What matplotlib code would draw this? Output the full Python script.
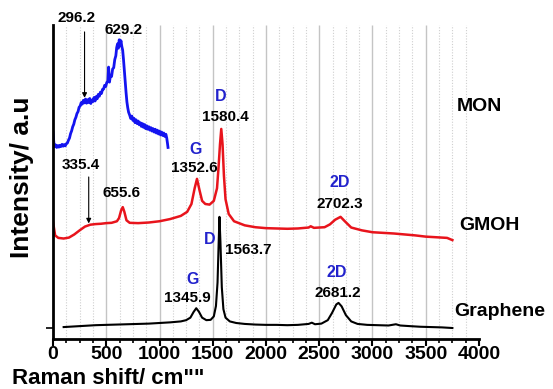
import matplotlib
matplotlib.use("Agg")
import matplotlib.pyplot as plt
import numpy as np

plt.rcParams['font.family'] = ['Liberation Sans', 'DejaVu Sans']
plt.rcParams['font.weight'] = 'bold'

# Graphene (preto)
graf_x = [100, 200, 300, 400, 500, 600, 700, 800, 900, 1000, 1100, 1200, 1250, 1290, 1320,
          1345, 1370, 1400, 1440, 1480, 1510, 1530, 1545, 1555, 1563, 1572, 1585, 1600, 1620,
          1660, 1720, 1800, 1900, 2000, 2100, 2200, 2300, 2400, 2430, 2460, 2520, 2580, 2620,
          2660, 2681, 2710, 2750, 2800, 2860, 2950, 3050, 3150, 3220, 3260, 3350, 3450, 3550,
          3650, 3750]
graf_y = [3.8, 4.0, 4.2, 4.4, 4.5, 4.6, 4.7, 4.8, 4.9, 5.1, 5.3, 5.6, 6.0, 6.8, 8.6,
          9.8, 8.7, 6.8, 6.0, 6.1, 7.2, 10.5, 18.0, 30.0, 38.9, 31.0, 16.5, 9.5, 6.8,
          5.6, 5.1, 4.8, 4.6, 4.5, 4.5, 4.4, 4.5, 4.8, 5.2, 4.7, 4.9, 6.0, 8.3,
          11.0, 11.5, 10.4, 7.6, 5.6, 4.8, 4.5, 4.4, 4.3, 4.7, 4.3, 4.1, 3.9, 3.8,
          3.7, 3.5]

# GMOH (vermelho)
gmoh_x = [0, 20, 50, 100, 150, 200, 250, 300, 350, 400, 450, 500, 550, 600, 620, 640, 655,
          670, 690, 720, 800, 900, 1000, 1100, 1200, 1260, 1300, 1330, 1352, 1375, 1400,
          1430, 1470, 1510, 1540, 1555, 1568, 1580, 1592, 1605, 1620, 1650, 1700, 1800,
          1900, 2000, 2100, 2200, 2300, 2400, 2420, 2450, 2550, 2600, 2650, 2700, 2740,
          2800, 2900, 3000, 3100, 3200, 3300, 3400, 3500, 3600, 3700, 3750]
gmoh_y = [37.3, 33.0, 32.2, 32.0, 32.3, 33.3, 34.6, 35.8, 36.4, 36.6, 36.7, 36.9, 37.0,
          37.5, 38.5, 41.0, 42.0, 40.5, 37.8, 37.0, 36.9, 37.1, 37.5, 38.2, 39.2, 40.5,
          43.0, 48.0, 51.0, 47.5, 44.0, 43.0, 42.8, 44.0, 48.0, 55.0, 62.0, 66.9, 62.0,
          52.0, 44.5, 39.8, 37.5, 36.2, 35.6, 35.3, 35.2, 35.1, 35.2, 35.5, 35.9, 35.4,
          35.6, 36.5, 38.0, 38.9, 37.5, 35.5, 34.6, 34.0, 33.8, 33.6, 33.3, 33.0, 32.6,
          32.4, 32.2, 31.5]

# MON (azul, sinal ruidoso)
mon_x = [0, 8, 15, 25, 35, 45, 55, 65, 75, 85, 95, 105, 115, 125, 135, 145, 155, 165, 175,
         185, 195, 205, 215, 225, 235, 245, 255, 265, 275, 285, 295, 305, 315, 325, 335, 345,
         355, 365, 375, 385, 395, 405, 415, 425, 435, 445, 455, 465, 475, 485, 495, 505, 515,
         522, 530, 540, 550, 560, 570, 580, 590, 598, 606, 614, 622, 630, 638, 646, 654, 662,
         670, 678, 686, 694, 702, 710, 720, 730, 740, 750, 760, 770, 780, 790, 800, 810, 820,
         830, 840, 850, 860, 870, 880, 890, 900, 910, 920, 930, 940, 950, 960, 970, 980, 990,
         1000, 1010, 1020, 1030, 1040, 1050, 1060, 1068, 1075, 1080]
mon_y = [65.9, 62.5, 61.2, 61.8, 61.0, 61.6, 61.1, 61.7, 61.3, 62.0, 61.4, 61.9, 61.5, 62.2,
         62.4, 63.3, 64.0, 65.4, 66.3, 67.6, 68.4, 69.8, 70.6, 71.8, 72.4, 73.8, 74.2, 75.3,
         74.8, 76.0, 75.2, 76.4, 75.1, 76.2, 75.3, 76.6, 75.0, 76.1, 75.6, 76.9, 75.8, 77.2,
         76.5, 77.9, 77.3, 78.6, 78.2, 79.5, 79.6, 80.8, 80.4, 81.7, 82.0, 86.6, 81.8, 84.0,
         83.6, 86.0, 86.4, 89.0, 90.2, 92.8, 94.0, 92.6, 95.3, 93.4, 95.0, 93.2, 92.0, 89.0,
         85.5, 82.0, 78.5, 75.5, 73.6, 72.2, 71.3, 70.2, 71.0, 69.6, 70.3, 68.9, 69.8, 68.6,
         69.4, 68.2, 68.9, 67.7, 68.6, 67.4, 68.3, 67.0, 67.9, 66.8, 67.6, 66.5, 67.3, 66.2,
         67.0, 65.9, 66.8, 65.6, 66.5, 65.3, 66.2, 65.0, 65.9, 64.8, 65.6, 64.5, 65.2, 64.0,
         62.3, 61.0]

# rotulos: (texto, x, y, cor, tamanho)
rotulos = [
    ("629.2", 666, 98.4, "black", 11),
    ("655.6", 647, 46.5, "black", 11),
    ("G", 1341, 60.2, "#2222cc", 11.5),
    ("1352.6", 1323, 54.5, "black", 11),
    ("D", 1576, 77.1, "#2222cc", 11.5),
    ("1580.4", 1623, 70.7, "black", 11),
    ("2D", 2692, 49.7, "#2222cc", 11.5),
    ("2702.3", 2692, 43.0, "black", 11),
    ("G", 1313, 18.8, "#2222cc", 11.5),
    ("1345.9", 1266, 13.1, "black", 11),
    ("D", 1473, 31.8, "#2222cc", 11.5),
    ("1563.7", 1829, 28.3, "black", 11),
    ("2D", 2664, 21.3, "#2222cc", 11.5),
    ("2681.2", 2673, 14.6, "black", 11),
    ("MON", 4006, 73.9, "black", 14),
    ("GMOH", 4100, 36.3, "black", 14),
    ("Graphene", 4193, 8.6, "black", 14),
]

# setas: (texto, x do pico, y texto, y inicio, y fim)
setas = [
    ("296.2", 296.2, 102.2, 97.8, 76.8),
    ("335.4", 335.4, 55.4, 51.6, 36.8),
]

fig = plt.figure(figsize=(5.53, 3.89), dpi=100)
ax = fig.add_axes([53/553, 1 - 339/389, (479 - 53)/553, (339 - 25)/389])

# grade vertical
menores = [v for v in np.arange(125, 4000, 125) if v % 500 != 0]
maiores = np.arange(500, 4000, 500)
ax.vlines(menores, 0, 100, colors='#cfcfcf', linestyles=(0, (1, 1.5)), linewidth=0.8, zorder=0)
ax.vlines(maiores, 0, 100, colors='#c4c4c4', linewidth=1.0, zorder=0)

ax.plot(graf_x, graf_y, color='black', linewidth=1.5)
ax.plot(gmoh_x, gmoh_y, color='#e8141c', linewidth=1.8)
ax.plot(mon_x, mon_y, color='#1414f0', linewidth=2.0)

for texto, x, y, cor, tam in rotulos:
    ax.text(x, y, texto, color=cor, fontsize=tam, fontweight='bold',
            ha='center', va='center', clip_on=False)

for texto, x, yt, y0, y1 in setas:
    ax.text(x - 71, yt, texto, fontsize=11, fontweight='bold', ha='center', va='center', clip_on=False)
    ax.annotate('', xy=(x, y1), xytext=(x, y0),
                arrowprops=dict(arrowstyle='-|>', color='black', lw=0.8,
                                mutation_scale=7, shrinkA=0, shrinkB=0),
                annotation_clip=False)

ax.set_xlim(0, 4000)
ax.set_ylim(0, 100)
ax.set_xticks(np.arange(0, 4001, 500))
ax.set_xticks(np.arange(0, 4001, 125), minor=True)
ax.set_yticks([3.5])
ax.set_yticklabels([''])
ax.tick_params(axis='x', which='major', length=5, width=1.5, labelsize=14, pad=0)
ax.tick_params(axis='x', which='minor', length=3, width=1.2)
ax.tick_params(axis='y', length=5, width=1.2)
for lab in ax.get_xticklabels():
    lab.set_fontweight('bold')

for s in ['top', 'right']:
    ax.spines[s].set_visible(False)
for s in ['left', 'bottom']:
    ax.spines[s].set_linewidth(2)

fig.text(12/553, 1 - 388.5/389, 'Raman shift/ cm""', fontsize=16, fontweight='bold',
         ha='left', va='bottom')
fig.text(22/553, 1 - 177/389, 'Intensity/ a.u', fontsize=19, fontweight='bold',
         rotation=90, ha='center', va='center')

fig.savefig('out.png', dpi=100)
